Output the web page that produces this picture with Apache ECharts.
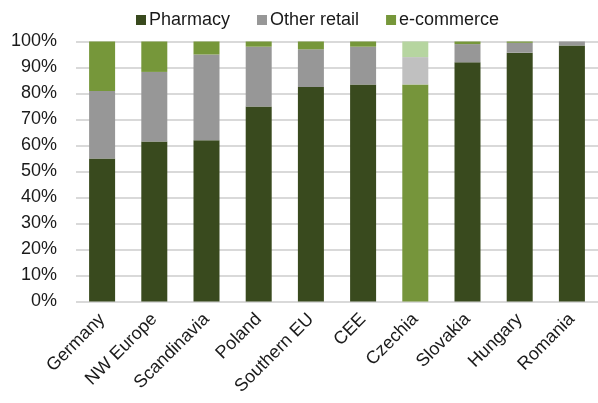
<!DOCTYPE html>
<html>
<head>
<meta charset="utf-8">
<script src="https://cdn.jsdelivr.net/npm/echarts@6/dist/echarts.min.js"></script>
<style>
html,body{margin:0;padding:0;background:#fff;}
#chart{width:598px;height:403px;}
</style>
</head>
<body>
<div id="chart"></div>
<script>
// Channel share of sales by market (% of total)
const categories = ['Germany', 'NW Europe', 'Scandinavia', 'Poland', 'Southern EU', 'CEE', 'Czechia', 'Slovakia', 'Hungary', 'Romania'];
const pharmacy    = [55, 61.5, 62, 75, 82.5, 83.5, 83.5, 92, 95.7, 98.5];
const otherRetail = [26, 26.8, 33, 23, 14.5, 14.5, 10.5, 7, 3.8, 1.5];
const ecommerce   = [19, 11.7, 5, 2, 3, 2, 6, 1, 0.5, 0];
const yTicks = [0, 10, 20, 30, 40, 50, 60, 70, 80, 90, 100];

// Czechia is highlighted with lighter shades
const highlight = 'Czechia';
const colors = {
  pharmacy: ['#394a1e', '#76953b'],
  other: ['#979797', '#c0c0c0'],
  ecom: ['#76973a', '#b6d5a0']
};

function items(values, pair) {
  return values.map((v, i) => ({
    value: v,
    itemStyle: { color: categories[i] === highlight ? pair[1] : pair[0] }
  }));
}

const chart = echarts.init(document.getElementById('chart'), null, { renderer: 'canvas' });
const font = 'Liberation Sans, Arial, sans-serif';

chart.setOption({
  animation: false,
  textStyle: { fontFamily: font },
  legend: {
    top: 6,
    left: 131,
    itemWidth: 10,
    itemHeight: 10,
    itemGap: 27,
    icon: 'rect',
    textStyle: { fontSize: 18, color: '#1a1a1a', fontFamily: font, padding: [0, 0, 0, -2] },
    data: [
      { name: 'Pharmacy', itemStyle: { color: colors.pharmacy[0] } },
      { name: 'Other retail', itemStyle: { color: colors.other[0] } },
      { name: 'e-commerce', itemStyle: { color: colors.ecom[0] } }
    ]
  },
  grid: { left: 76, right: 0, top: 41.5, bottom: 101.5, containLabel: false },
  xAxis: {
    type: 'category',
    data: categories,
    axisLine: { show: false },
    axisTick: { show: false },
    axisLabel: {
      rotate: 45,
      fontSize: 18,
      color: '#1a1a1a',
      fontFamily: font,
      margin: 15,
      interval: 0
    }
  },
  yAxis: {
    type: 'value',
    min: yTicks[0],
    max: yTicks[yTicks.length - 1],
    interval: yTicks[1] - yTicks[0],
    axisLine: { show: false },
    axisTick: { show: false },
    splitLine: { lineStyle: { color: '#d9d9d9', width: 2 } },
    axisLabel: {
      formatter: v => v + '%',
      fontSize: 18,
      color: '#1a1a1a',
      fontFamily: font,
      margin: 19
    }
  },
  series: [
    { name: 'Pharmacy', type: 'bar', stack: 'share', barWidth: 26, data: items(pharmacy, colors.pharmacy), itemStyle: { color: colors.pharmacy[0] } },
    { name: 'Other retail', type: 'bar', stack: 'share', barWidth: 26, data: items(otherRetail, colors.other), itemStyle: { color: colors.other[0] } },
    { name: 'e-commerce', type: 'bar', stack: 'share', barWidth: 26, data: items(ecommerce, colors.ecom), itemStyle: { color: colors.ecom[0] } }
  ]
});
</script>
</body>
</html>
